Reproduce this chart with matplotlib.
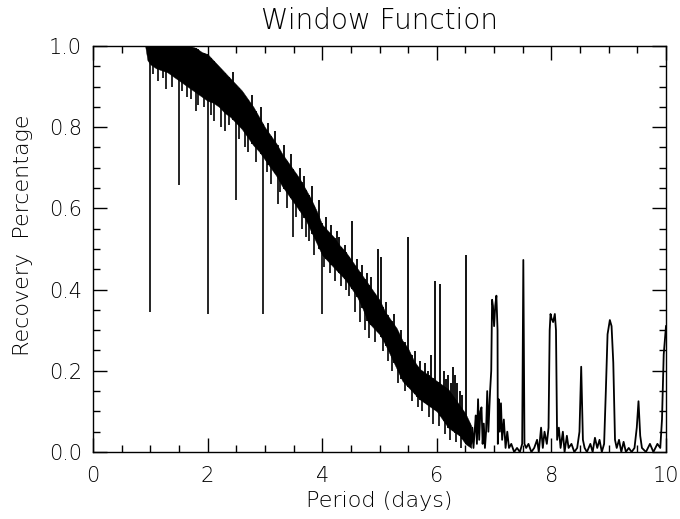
import numpy as np
import matplotlib
matplotlib.use("Agg")
import matplotlib.pyplot as plt
from matplotlib.ticker import MultipleLocator, FormatStrFormatter

plt.rcParams['font.family'] = 'DejaVu Sans'
plt.rcParams['font.weight'] = 'light'
plt.rcParams['axes.titleweight'] = 'light'
plt.rcParams['axes.labelweight'] = 'light'

# dense part of the window function: lower / upper edge of the scatter band
band_period = [0.91, 0.95, 1.0, 1.1, 1.2, 1.3, 1.4, 1.5, 1.6, 1.7, 1.8, 1.9,
               2.0, 2.1, 2.2, 2.3, 2.4, 2.5, 2.6, 2.7, 2.8, 2.9, 3.0, 3.1,
               3.2, 3.3, 3.4, 3.5, 3.6, 3.7, 3.8, 3.9, 4.0, 4.1, 4.2, 4.3,
               4.4, 4.5, 4.6, 4.7, 4.8, 4.9, 5.0, 5.1, 5.2, 5.3, 5.4, 5.5,
               5.6, 5.7, 5.8, 5.9, 6.0, 6.1, 6.2, 6.3, 6.4, 6.5, 6.6]
band_upper = [1.0, 1.0, 1.0, 1.0, 1.0, 1.0, 1.0, 1.0, 1.0, 1.0, 0.995, 0.985,
              0.98, 0.965, 0.95, 0.935, 0.92, 0.905, 0.89, 0.87, 0.85, 0.825, 0.80, 0.78,
              0.76, 0.735, 0.715, 0.695, 0.675, 0.65, 0.625, 0.595, 0.56, 0.545, 0.53, 0.51,
              0.495, 0.475, 0.455, 0.435, 0.415, 0.395, 0.375, 0.345, 0.325, 0.305, 0.275, 0.255,
              0.225, 0.205, 0.195, 0.185, 0.175, 0.165, 0.155, 0.135, 0.115, 0.095, 0.065]
band_lower = [1.0, 0.965, 0.955, 0.945, 0.94, 0.935, 0.925, 0.915, 0.905, 0.895, 0.885, 0.875,
              0.865, 0.86, 0.85, 0.835, 0.825, 0.81, 0.795, 0.775, 0.755, 0.74, 0.72, 0.70,
              0.68, 0.655, 0.635, 0.615, 0.595, 0.575, 0.545, 0.515, 0.485, 0.47, 0.455, 0.44,
              0.425, 0.405, 0.385, 0.355, 0.32, 0.305, 0.29, 0.265, 0.235, 0.205, 0.175, 0.16,
              0.145, 0.13, 0.12, 0.11, 0.10, 0.08, 0.06, 0.05, 0.04, 0.02, 0.01]

# aliasing dips below the band
dip_period = [1.0, 1.05, 1.13, 1.22, 1.27, 1.38, 1.5, 1.56, 1.64, 1.71, 1.79, 1.83,
              1.93, 2.0, 2.06, 2.12, 2.24, 2.31, 2.37, 2.5, 2.55, 2.66, 2.71, 2.84,
              2.97, 3.04, 3.11, 3.22, 3.27, 3.39, 3.49, 3.55, 3.64, 3.72, 3.77, 3.86,
              3.99, 4.04, 4.13, 4.22, 4.33, 4.41, 4.47, 4.58, 4.66, 4.74, 4.82, 4.93,
              5.06, 5.14, 5.21, 5.33, 5.44, 5.57, 5.68, 5.75, 5.86, 5.93, 6.03, 6.14,
              6.23, 6.34, 6.43]
dip_value = [0.345, 0.93, 0.915, 0.92, 0.895, 0.90, 0.657, 0.89, 0.875, 0.87, 0.84, 0.855,
             0.85, 0.34, 0.83, 0.815, 0.80, 0.79, 0.805, 0.62, 0.77, 0.75, 0.74, 0.715,
             0.34, 0.69, 0.66, 0.61, 0.64, 0.60, 0.53, 0.58, 0.55, 0.53, 0.52, 0.485,
             0.34, 0.455, 0.44, 0.42, 0.41, 0.40, 0.385, 0.345, 0.32, 0.30, 0.28, 0.27,
             0.25, 0.225, 0.20, 0.17, 0.15, 0.125, 0.11, 0.10, 0.085, 0.07, 0.065, 0.045,
             0.03, 0.025, 0.01]

# spikes rising above the band
peak_period = [2.45, 2.78, 2.93, 3.06, 3.17, 3.33, 3.45, 3.61, 3.69, 3.83, 3.95, 4.06,
               4.16, 4.25, 4.3, 4.39, 4.52, 4.61, 4.7, 4.79, 4.85, 4.97, 5.03, 5.11,
               5.25, 5.38, 5.45, 5.5, 5.56, 5.62, 5.66, 5.71, 5.8, 5.84, 5.9, 5.97,
               6.06, 6.12, 6.16, 6.2, 6.24, 6.28, 6.32, 6.36, 6.4, 6.44, 6.51]
peak_value = [0.935, 0.88, 0.85, 0.81, 0.79, 0.755, 0.735, 0.70, 0.68, 0.655, 0.62, 0.58,
              0.56, 0.545, 0.53, 0.51, 0.57, 0.475, 0.46, 0.44, 0.43, 0.50, 0.48, 0.37,
              0.34, 0.30, 0.27, 0.53, 0.24, 0.25, 0.21, 0.225, 0.22, 0.20, 0.24, 0.42,
              0.415, 0.20, 0.18, 0.19, 0.17, 0.21, 0.19, 0.17, 0.15, 0.14, 0.485]

# sparse tail beyond ~6.5 days
tail_period = [6.55, 6.57, 6.60, 6.62, 6.64, 6.66, 6.68, 6.70, 6.72, 6.74, 6.76, 6.78,
               6.80, 6.82, 6.84, 6.86, 6.88, 6.90, 6.93, 6.95, 6.965, 6.98, 7.00, 7.02,
               7.04, 7.06, 7.065, 7.08, 7.10, 7.12, 7.14, 7.17, 7.20, 7.23, 7.26, 7.30,
               7.35, 7.40, 7.45, 7.49, 7.51, 7.53, 7.56, 7.60, 7.65, 7.70, 7.75, 7.78,
               7.82, 7.85, 7.88, 7.92, 7.95, 7.97, 7.985, 8.00, 8.03, 8.06, 8.08, 8.10,
               8.13, 8.16, 8.20, 8.23, 8.27, 8.30, 8.35, 8.40, 8.45, 8.49, 8.52, 8.55,
               8.58, 8.62, 8.68, 8.72, 8.76, 8.80, 8.84, 8.88, 8.92, 8.95, 8.98, 9.02,
               9.05, 9.08, 9.11, 9.14, 9.18, 9.22, 9.26, 9.30, 9.35, 9.40, 9.45, 9.49,
               9.52, 9.55, 9.58, 9.65, 9.72, 9.78, 9.85, 9.90, 9.93, 9.96, 10.0]
tail_value = [0.04, 0.07, 0.02, 0.06, 0.01, 0.05, 0.09, 0.02, 0.13, 0.03, 0.10, 0.11,
              0.02, 0.07, 0.01, 0.05, 0.15, 0.05, 0.15, 0.20, 0.375, 0.36, 0.31, 0.36,
              0.385, 0.30, 0.02, 0.13, 0.05, 0.12, 0.03, 0.08, 0.01, 0.05, 0.01, 0.02,
              0.0, 0.01, 0.0, 0.02, 0.473, 0.02, 0.01, 0.02, 0.0, 0.01, 0.03, 0.0,
              0.06, 0.01, 0.05, 0.02, 0.06, 0.30, 0.34, 0.33, 0.32, 0.34, 0.30, 0.03,
              0.06, 0.01, 0.05, 0.0, 0.04, 0.01, 0.02, 0.0, 0.01, 0.05, 0.21, 0.03,
              0.01, 0.0, 0.02, 0.0, 0.035, 0.01, 0.03, 0.0, 0.02, 0.15, 0.29, 0.325,
              0.31, 0.22, 0.03, 0.01, 0.03, 0.0, 0.025, 0.0, 0.01, 0.0, 0.01, 0.06,
              0.125, 0.04, 0.01, 0.0, 0.02, 0.0, 0.02, 0.01, 0.08, 0.24, 0.31]

fig = plt.figure(figsize=(6.8, 5.19), dpi=100)
ax = fig.add_axes([93 / 680, 67 / 519, 573 / 680, 406 / 519])

ax.fill_between(band_period, band_lower, band_upper, color='k', lw=0.3)
ax.vlines(dip_period, dip_value, np.interp(dip_period, band_period, band_upper),
          color='k', lw=1.2)
ax.vlines(peak_period, np.interp(peak_period, band_period, band_lower), peak_value,
          color='k', lw=1.3)
ax.plot(tail_period, tail_value, color='k', lw=1.3)

ax.set_xlim(0, 10)
ax.set_ylim(0, 1.0)
ax.xaxis.set_major_locator(MultipleLocator(2))
ax.xaxis.set_minor_locator(MultipleLocator(0.5))
ax.yaxis.set_major_locator(MultipleLocator(0.2))
ax.yaxis.set_minor_locator(MultipleLocator(0.05))
ax.yaxis.set_major_formatter(FormatStrFormatter('%.1f'))
ax.tick_params(which='both', direction='in', top=True, right=True, width=1.0)
ax.tick_params(which='major', length=10, labelsize=15)
ax.tick_params(which='minor', length=5)
ax.tick_params(axis='x', pad=10)
ax.tick_params(axis='y', pad=8)
for s in ax.spines.values():
    s.set_linewidth(1.0)

ax.set_title('Window Function', fontsize=20, pad=12)
ax.set_xlabel('Period (days)', fontsize=16, labelpad=4)
ax.set_ylabel('Recovery  Percentage', fontsize=16)
ax.yaxis.set_label_coords(-0.105, 0.534)

fig.savefig('out.png', dpi=100)
